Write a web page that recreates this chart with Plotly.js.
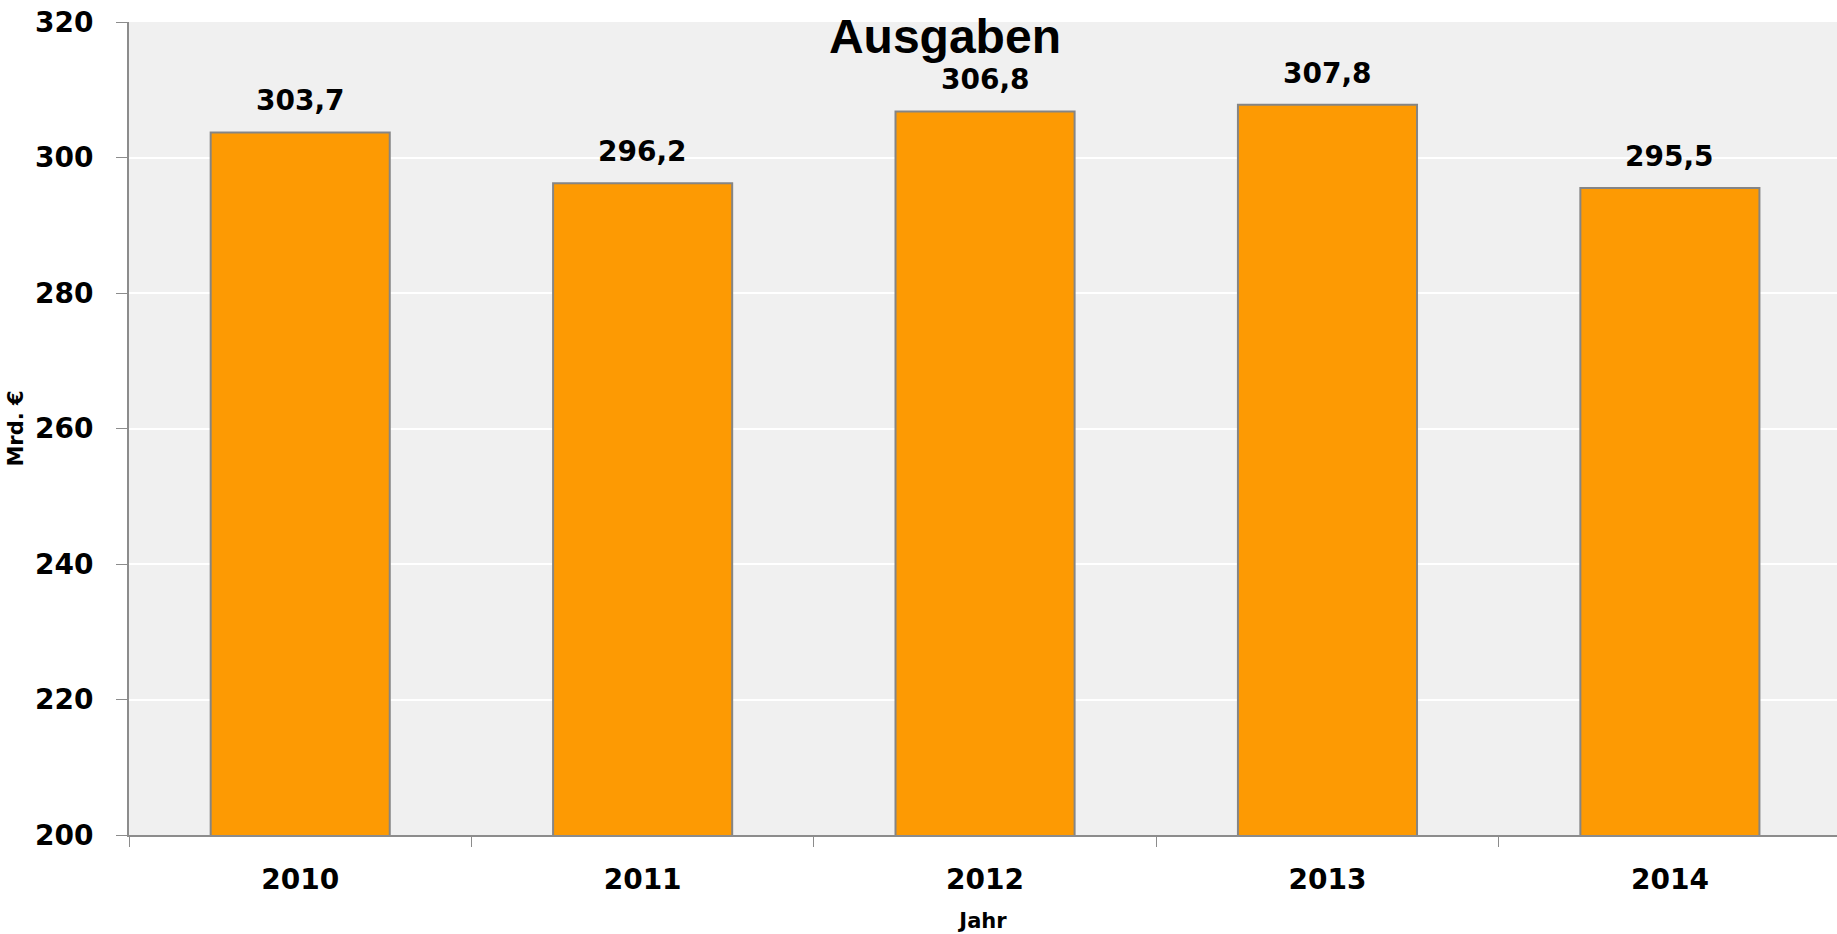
<!DOCTYPE html>
<html>
<head>
<meta charset="utf-8">
<script src="https://cdn.plot.ly/plotly-3.0.1.min.js"></script>
<style>
html,body{margin:0;padding:0;background:#fff;}
#chart{width:1837px;height:934px;}
</style>
</head>
<body>
<div id="chart"></div>
<script>
var years = ['2010', '2011', '2012', '2013', '2014'];
var ausgaben = [303.7, 296.2, 306.8, 307.8, 295.5];
var yTicks = [200, 220, 240, 260, 280, 300, 320];

function fmt(v){ return v.toFixed(1).replace('.', ','); }

var trace = {
  type: 'bar',
  x: years,
  y: ausgaben,
  marker: { color: '#fd9a03', line: { color: '#858585', width: 2 } },
  hoverinfo: 'x+y'
};

var annotations = years.map(function(yr, i){
  return {
    x: i, y: ausgaben[i], xref: 'x', yref: 'y',
    text: fmt(ausgaben[i]), showarrow: false,
    xanchor: 'center', yanchor: 'bottom', yshift: 13,
    font: { family: 'DejaVu Sans', size: 28, color: '#000', weight: 'bold' }
  };
});

var layout = {
  width: 1837, height: 934,
  margin: { l: 129, r: 0, t: 22, b: 99 },
  paper_bgcolor: '#ffffff',
  plot_bgcolor: '#f0f0f0',
  bargap: 0.477,
  showlegend: false,
  title: {
    text: 'Ausgaben',
    font: { family: 'Liberation Sans', size: 48, color: '#000', weight: 'bold' },
    xref: 'container', x: 0.5144, xanchor: 'center',
    yref: 'container', y: 0.9615, yanchor: 'middle'
  },
  xaxis: {
    type: 'category',
    range: [-0.5, 4.488],
    tickson: 'boundaries',
    ticks: 'outside', ticklen: 10, tickwidth: 1, tickcolor: '#8c8c8c',
    showline: true, linecolor: '#8c8c8c', linewidth: 2,
    showgrid: false, zeroline: false,
    ticklabelstandoff: 18,
    tickfont: { family: 'DejaVu Sans', size: 28, color: '#000', weight: 'bold' },
    title: { text: 'Jahr', standoff: 19, font: { family: 'DejaVu Sans', size: 21, color: '#000', weight: 'bold' } },
    automargin: false,
    fixedrange: true
  },
  yaxis: {
    range: [200, 320],
    tickvals: yTicks,
    ticktext: yTicks.map(String),
    ticks: 'outside', ticklen: 11, tickwidth: 1, tickcolor: '#8c8c8c',
    showline: true, linecolor: '#8c8c8c', linewidth: 2,
    showgrid: true, gridcolor: '#ffffff', gridwidth: 2,
    zeroline: false,
    ticklabelstandoff: 17,
    tickfont: { family: 'DejaVu Sans', size: 28, color: '#000', weight: 'bold' },
    title: { text: 'Mrd. €', standoff: 6, font: { family: 'DejaVu Sans', size: 21, color: '#000', weight: 'bold' } },
    automargin: false,
    fixedrange: true
  },
  annotations: annotations
};

Plotly.newPlot('chart', [trace], layout, { displayModeBar: false });
</script>
</body>
</html>
